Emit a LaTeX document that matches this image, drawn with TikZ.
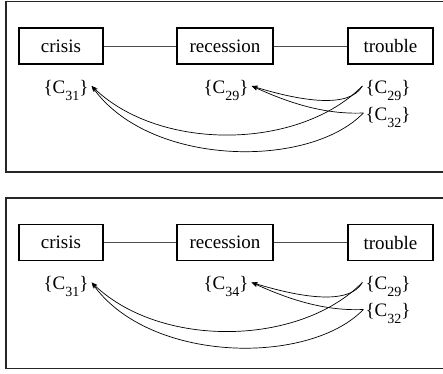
\documentclass[tikz,border=0pt]{standalone}
\usepackage{fontspec}
\setmainfont{Liberation Serif}
\usetikzlibrary{arrows.meta}
\newcommand\sbs[1]{\raisebox{-7pt}{\fontsize{14}{14}\selectfont #1}}
\newcommand\lbl[1]{\{C\sbs{#1}\}}
\tikzset{
  frame/.style={line width=1.6pt, draw=black!85},
  wordbox/.style={draw, line width=1.2pt, minimum height=36pt, inner sep=0pt, font=\fontsize{19}{22}\selectfont},
  link/.style={line width=0.8pt, draw=black!70},
  setlbl/.style={inner sep=0pt, anchor=base, font=\fontsize{19}{22}\selectfont},
  arr/.style={line width=0.7pt, -{Stealth[length=6pt,width=4.5pt]}}
}
\newcommand\panel[3]{%
  \begin{scope}[shift={(0,#1)}]
    \draw[frame] (6,1.5) rectangle (470,172);
    \node[wordbox, minimum width=84pt] (#3cr) at (61,46) {crisis};
    \node[wordbox, minimum width=96pt] (#3re) at (225,46) {recession};
    \node[wordbox, minimum width=85pt] (#3tr) at (390.5,46) {trouble};
    \draw[link] (#3cr) -- (#3re);
    \draw[link] (#3re) -- (#3tr);
    \node[setlbl] (#3lc) at (66,93) {\lbl{31}};
    \node[setlbl] (#3lr) at (226,93) {\lbl{#2}};
    \node[setlbl] (#3ta) at (388,93) {\lbl{29}};
    \node[setlbl] (#3tb) at (388,120) {\lbl{32}};
    \draw[arr] ([shift={(-3,-4)}]#3ta.west) .. controls +(-13,23) and +(49,15) .. ([shift={(3,-4)}]#3lr.east);
    \draw[arr] ([shift={(-2,-4)}]#3tb.west) .. controls +(-44,2) and +(29,13) .. ([shift={(3,-4)}]#3lr.east);
    \draw[arr] ([shift={(-3,-4)}]#3ta.west) .. controls +(-63,64) and +(69,66) .. ([shift={(3,-4)}]#3lc.east);
    \draw[arr] ([shift={(-2,-4)}]#3tb.west) .. controls +(-54,56) and +(59,81) .. ([shift={(3,-4)}]#3lc.east);
  \end{scope}}
\begin{document}
\begin{tikzpicture}[x=1pt,y=-1pt]
  \useasboundingbox (0,0) rectangle (443,373);
  \clip (0,0) rectangle (443,373);
  \panel{0}{29}{a}
  \panel{196.5}{34}{b}
\end{tikzpicture}
\end{document}
